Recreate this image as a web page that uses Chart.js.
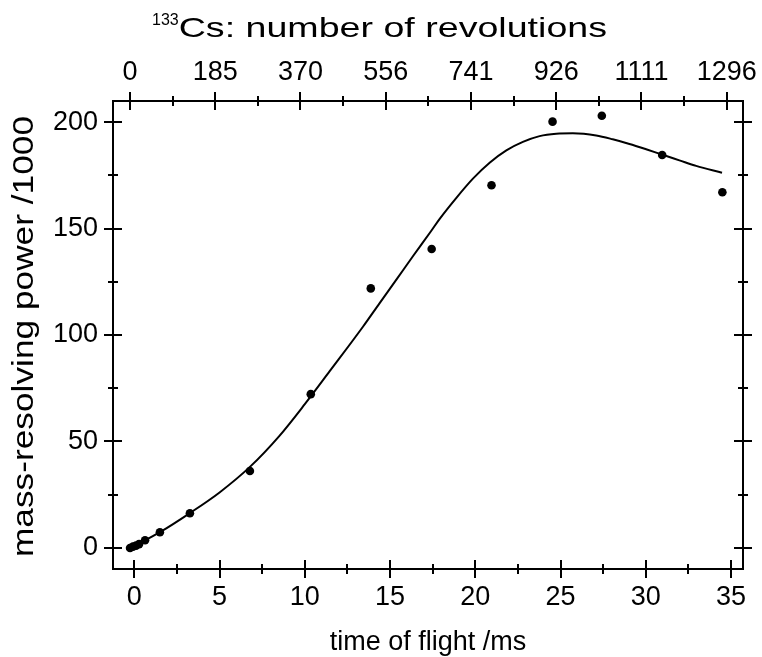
<!DOCTYPE html>
<html><head><meta charset="utf-8">
<script src="https://cdn.jsdelivr.net/npm/chart.js@4"></script>
<style>html,body{margin:0;padding:0;background:#fff}#wrap{width:762px;height:657px}</style>
</head><body><div id="wrap"><canvas id="c" width="762" height="657"></canvas></div>
<script>
// ---- data ----
const pointTime  = [-0.25, -0.08, 0.10, 0.28, 0.63, 1.50, 3.26, 6.78, 10.35, 13.87, 17.44, 20.95, 24.53, 27.42, 30.96, 34.49];
const pointPower = [-0.1, 0.5, 1.0, 1.7, 3.5, 7.3, 16.2, 36.1, 72.2, 121.9, 140.4, 170.4, 200.3, 203.1, 184.6, 167.1];

const fitTime  = [-0.43, 0.00, 0.63, 1.50, 3.26, 5.00, 6.78, 8.50, 10.00, 11.46, 13.42, 14.39, 15.37, 16.34, 17.42, 17.90, 18.89, 19.86, 20.84, 21.82, 22.79, 23.77, 24.75, 25.72, 27.09, 28.06, 29.04, 30.02, 30.99, 31.97, 32.95, 34.47];
const fitPower = [-0.3, 1.1, 3.5, 7.3, 16.3, 26.0, 38.0, 52.5, 67.5, 83.0, 104.0, 115.0, 126.0, 137.0, 149.0, 154.5, 164.5, 173.5, 181.0, 186.8, 190.8, 193.5, 194.6, 194.8, 193.8, 192.0, 189.8, 187.3, 184.7, 182.1, 179.5, 176.3];

const timeTicks  = [0, 5, 10, 15, 20, 25, 30, 35];
const powerTicks = [0, 50, 100, 150, 200];
const revTickValues = [0, 185.2, 370.4, 555.6, 740.8, 926, 1111.2, 1296.4];
const revTickLabels = ['0', '185', '370', '556', '741', '926', '1111', '1296'];

const xTitle = 'time of flight /ms';
const yTitle = 'mass-resolving power /1000';
const topTitleSup = '133';
const topTitleMain = 'Cs: number of revolutions';

const FONT = "'Liberation Sans', Arial, Helvetica, sans-serif";
const FS = 27;

function mids(arr){ const m=[]; for(let i=0;i<arr.length-1;i++) m.push((arr[i]+arr[i+1])/2); return m; }

const frame = {
  id: 'frame',
  afterDraw(chart){
    const ctx = chart.ctx, a = chart.chartArea;
    const sx = chart.scales.x, sx2 = chart.scales.x2, sy = chart.scales.y;
    ctx.save();
    ctx.strokeStyle = '#000';
    ctx.lineWidth = 2;
    ctx.lineCap = 'butt';
    ctx.strokeRect(a.left, a.top, a.right - a.left, a.bottom - a.top);
    const MAJ = 9, MIN = 5;
    ctx.beginPath();
    timeTicks.forEach(v => { const p = Math.round(sx.getPixelForValue(v)); ctx.moveTo(p, a.bottom - MAJ); ctx.lineTo(p, a.bottom + MAJ); });
    mids(timeTicks).forEach(v => { const p = Math.round(sx.getPixelForValue(v)); ctx.moveTo(p, a.bottom - MIN); ctx.lineTo(p, a.bottom + MIN); });
    revTickValues.forEach(v => { const p = Math.round(sx2.getPixelForValue(v)); ctx.moveTo(p, a.top - MAJ); ctx.lineTo(p, a.top + MAJ); });
    mids(revTickValues).forEach(v => { const p = Math.round(sx2.getPixelForValue(v)); ctx.moveTo(p, a.top - MIN); ctx.lineTo(p, a.top + MIN); });
    powerTicks.forEach(v => { const p = Math.round(sy.getPixelForValue(v));
      ctx.moveTo(a.left - MAJ, p); ctx.lineTo(a.left + MAJ, p);
      ctx.moveTo(a.right - MAJ, p); ctx.lineTo(a.right + MAJ, p); });
    mids(powerTicks).forEach(v => { const p = Math.round(sy.getPixelForValue(v));
      ctx.moveTo(a.left - MIN, p); ctx.lineTo(a.left + MIN, p);
      ctx.moveTo(a.right - MIN, p); ctx.lineTo(a.right + MIN, p); });
    ctx.stroke();

    ctx.fillStyle = '#000';
    // top title with superscript
    ctx.textBaseline = 'alphabetic';
    ctx.textAlign = 'left';
    ctx.font = '16px ' + FONT;
    ctx.fillText(topTitleSup, 152, 25);
    const supW = ctx.measureText(topTitleSup).width;
    ctx.font = '28px ' + FONT;
    const mainW = ctx.measureText(topTitleMain).width;
    const mainStart = 152 + supW, mainEnd = 607;
    ctx.save();
    ctx.translate(mainStart, 37);
    ctx.scale((mainEnd - mainStart) / mainW, 1);
    ctx.fillText(topTitleMain, 0, 0);
    ctx.restore();

    // left (rotated) title
    ctx.font = '29px ' + FONT;
    const yW = ctx.measureText(yTitle).width;
    const yTop = 116, yBot = 557;
    ctx.save();
    ctx.translate(33, (yTop + yBot) / 2);
    ctx.rotate(-Math.PI / 2);
    ctx.scale((yBot - yTop) / yW, 1);
    ctx.textAlign = 'center';
    ctx.textBaseline = 'alphabetic';
    ctx.fillText(yTitle, 0, 0);
    ctx.restore();
    ctx.restore();
  }
};

new Chart(document.getElementById('c'), {
  type: 'scatter',
  data: {
    datasets: [
      { label: 'measured', data: pointTime.map((t, i) => ({ x: t, y: pointPower[i] })),
        pointRadius: 4.3, pointBackgroundColor: '#000', pointBorderWidth: 0, showLine: false, xAxisID: 'x', yAxisID: 'y' },
      { label: 'fit', data: fitTime.map((t, i) => ({ x: t, y: fitPower[i] })),
        showLine: true, borderColor: '#000', borderWidth: 2, pointRadius: 0, cubicInterpolationMode: 'monotone', fill: false, xAxisID: 'x', yAxisID: 'y' }
    ]
  },
  options: {
    responsive: false, animation: false, devicePixelRatio: 1,
    layout: { padding: 0 },
    plugins: { legend: { display: false }, tooltip: { enabled: false }, title: { display: false } },
    scales: {
      x: {
        type: 'linear', position: 'bottom', min: -1.25, max: 35.7,
        afterBuildTicks: s => { s.ticks = timeTicks.map(v => ({ value: v })); },
        afterFit: s => { s.height = 88; s.paddingLeft = 0; s.paddingRight = 0; },
        grid: { display: false, drawTicks: false }, border: { display: false },
        ticks: { color: '#000', font: { family: FONT, size: FS }, padding: 12, maxRotation: 0, autoSkip: false },
        title: { display: true, text: xTitle, color: '#000', font: { family: FONT, size: FS, lineHeight: 1.1 }, padding: { top: 0, bottom: 0 } }
      },
      x2: {
        type: 'linear', position: 'top', min: -36.9, max: 1331.9,
        afterBuildTicks: s => { s.ticks = revTickValues.map(v => ({ value: v })); },
        afterFit: s => { s.height = 101; s.paddingLeft = 0; s.paddingRight = 0; },
        grid: { display: false, drawTicks: false }, border: { display: false },
        ticks: { color: '#000', font: { family: FONT, size: FS }, padding: 12, maxRotation: 0, autoSkip: false,
                 callback: (v, i) => revTickLabels[i] }
      },
      y: {
        type: 'linear', position: 'left', min: -10, max: 210,
        afterBuildTicks: s => { s.ticks = powerTicks.map(v => ({ value: v })); },
        afterFit: s => { s.width = 113; },
        grid: { display: false, drawTicks: false }, border: { display: false },
        ticks: { color: '#000', font: { family: FONT, size: FS }, padding: 15 }
      },
      y2: {
        type: 'linear', position: 'right', min: -10, max: 210,
        afterFit: s => { s.width = 19; },
        grid: { display: false, drawTicks: false }, border: { display: false },
        ticks: { display: false }
      }
    }
  },
  plugins: [frame]
});
</script>
</body></html>
